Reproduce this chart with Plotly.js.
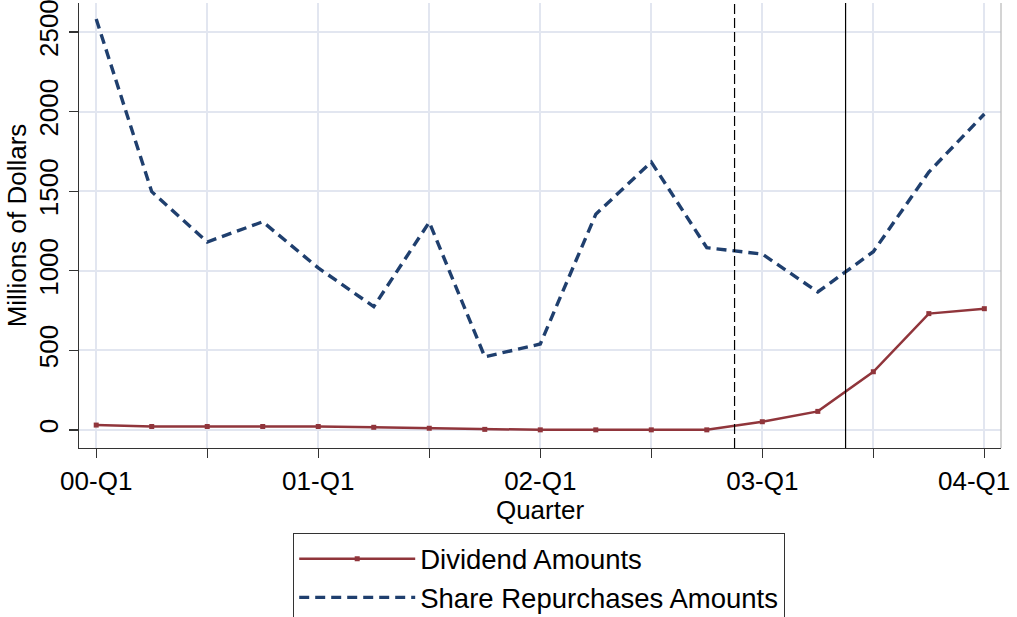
<!DOCTYPE html>
<html>
<head>
<meta charset="utf-8">
<script src="https://cdn.plot.ly/plotly-3.0.1.min.js"></script>
<style>html,body{margin:0;padding:0;background:#fff;}#chart{width:1017px;height:617px;}</style>
</head>
<body>
<div id="chart"></div>
<script>
const quarters = ['00-Q1','00-Q2','00-Q3','00-Q4','01-Q1','01-Q2','01-Q3','01-Q4','02-Q1','02-Q2','02-Q3','02-Q4','03-Q1','03-Q2','03-Q3','03-Q4','04-Q1'];
const dividends = [31, 22, 22, 22, 22, 17, 11, 4, 1, 1, 1, 1, 52, 117, 366, 731, 762];
const repurchases = [2582, 1497, 1181, 1308, 1018, 775, 1305, 460, 540, 1355, 1683, 1145, 1105, 867, 1120, 1620, 1985];
const tickQuarters = ['00-Q1','00-Q3','01-Q1','01-Q3','02-Q1','02-Q3','03-Q1','03-Q3','04-Q1'];
const tickLabels = ['00-Q1','','01-Q1','','02-Q1','','03-Q1','','04-Q1'];
const yTicks = [0, 500, 1000, 1500, 2000, 2500];
const eventLines = [11.5, 13.5];

const font = 'Liberation Sans, Arial, Helvetica, sans-serif';
const grid = '#e2e6f0';

// last tick label is drawn as an annotation so it stays inside the page edge
const lastIdx = tickLabels.length - 1;
const axisTickText = tickLabels.map((t, i) => i === lastIdx ? '' : t);

const traces = [
  {x: quarters, y: dividends, name: 'Dividend Amounts', type: 'scatter', mode: 'lines+markers',
   legendgroup: 'a',
   line: {color: '#90353b', width: 2.5}, marker: {symbol: 'square', size: 5, color: '#90353b'}},
  {x: quarters, y: repurchases, name: 'Share Repurchases Amounts', type: 'scatter', mode: 'lines',
   legendgroup: 'b',
   line: {color: '#1f3f6e', width: 3.4, dash: '10px,6px'}}
];

const layout = {
  width: 1017, height: 617,
  margin: {l: 79, r: 16, t: 3, b: 169, autoexpand: false},
  paper_bgcolor: '#fff', plot_bgcolor: '#fff',
  font: {family: font, size: 26, color: '#000'},
  showlegend: true,
  xaxis: {
    type: 'category', range: [-0.31, 16.3],
    tickmode: 'array', tickvals: tickQuarters, ticktext: axisTickText,
    ticks: 'outside', ticklen: 9, tickwidth: 1.3, tickcolor: '#333',
    showline: true, linecolor: '#333', linewidth: 1.3,
    showgrid: true, gridcolor: grid, gridwidth: 2, zeroline: false,
    ticklabeloverflow: 'allow',
    tickfont: {family: font, size: 26, color: '#000'},
    title: {text: 'Quarter', font: {family: font, size: 26, color: '#000'}, standoff: 0}
  },
  yaxis: {
    range: [-113, 2682],
    tickmode: 'array', tickvals: yTicks,
    tickangle: -90,
    ticks: 'outside', ticklen: 9, tickwidth: 1.3, tickcolor: '#333',
    showline: true, linecolor: '#333', linewidth: 1.3,
    showgrid: true, gridcolor: grid, gridwidth: 2, zeroline: false,
    ticklabeloverflow: 'allow',
    tickfont: {family: font, size: 26, color: '#000'},
    title: {text: 'Millions of Dollars', font: {family: font, size: 26, color: '#000'}, standoff: 0}
  },
  annotations: [
    {text: tickLabels[lastIdx], xref: 'x', x: tickQuarters[lastIdx], xanchor: 'right', xshift: 28,
     yref: 'paper', y: 0, yanchor: 'middle', yshift: -33, showarrow: false,
     font: {family: font, size: 26, color: '#000'}}
  ],
  shapes: [
    {type: 'line', xref: 'x', yref: 'paper', x0: eventLines[0], x1: eventLines[0], y0: 0, y1: 1,
     line: {color: '#000', width: 1.2, dash: '10px,4px'}},
    {type: 'line', xref: 'x', yref: 'paper', x0: eventLines[1], x1: eventLines[1], y0: 0, y1: 1,
     line: {color: '#000', width: 1.2}},
    {type: 'line', xref: 'paper', yref: 'paper', x0: 1, x1: 1, y0: 0, y1: 1,
     line: {color: '#b8b8b8', width: 1.2}}
  ],
  legend: {
    x: 0.232, xanchor: 'left', y: -0.191, yanchor: 'top',
    orientation: 'v', bordercolor: '#333', borderwidth: 1.3, bgcolor: '#fff',
    font: {family: font, size: 27.5, color: '#000'},
    itemwidth: 116, tracegroupgap: 0
  }
};

Plotly.newPlot('chart', traces, layout, {displayModeBar: false, staticPlot: true});
</script>
</body>
</html>
